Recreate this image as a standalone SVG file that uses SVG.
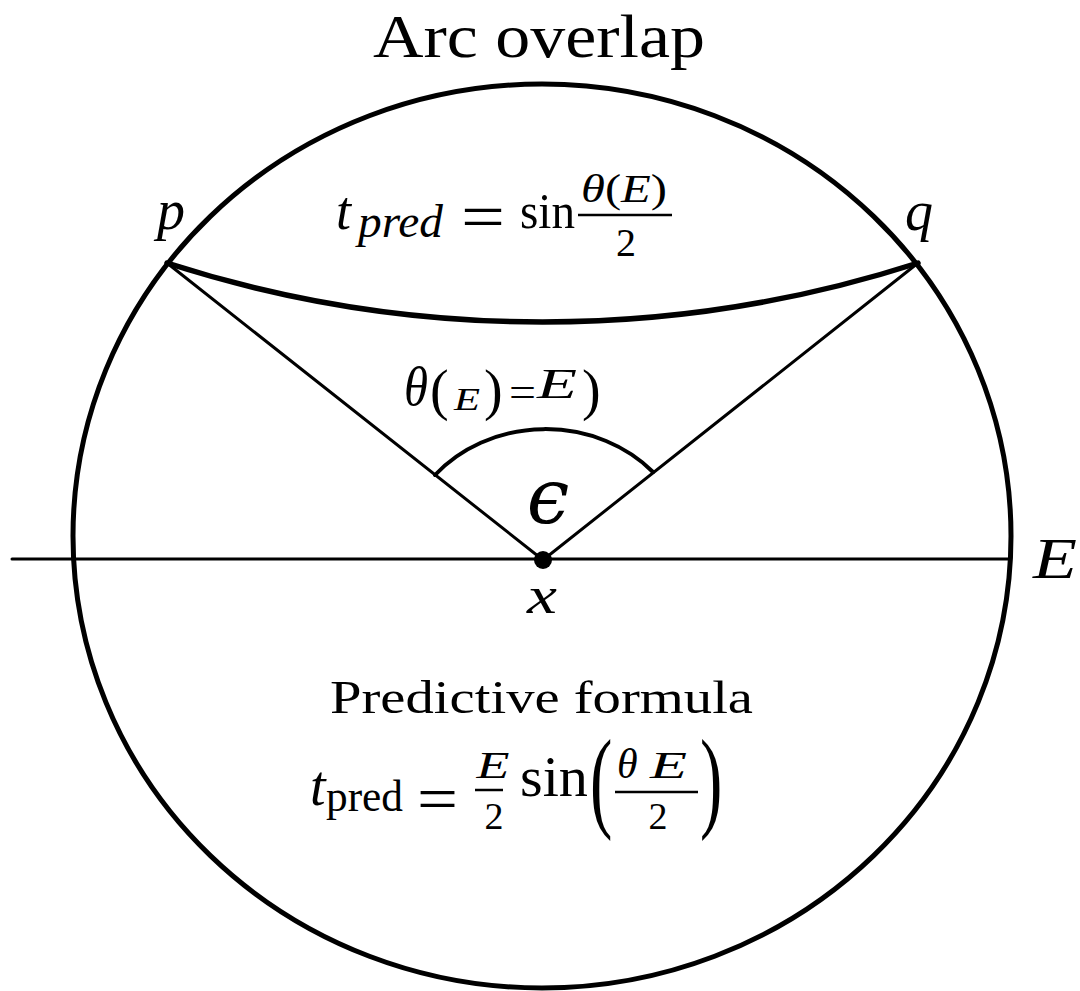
<svg xmlns="http://www.w3.org/2000/svg" width="1080" height="991" viewBox="0 0 1080 991">
<style>
text{font-family:"Liberation Serif","Times New Roman",serif;fill:#000}
.i{font-style:italic}
.ln{stroke:#000;fill:none;stroke-linecap:round}
.thin{stroke-width:3}
.thick{stroke-width:5}
.bar{stroke:#000;stroke-width:2.5}
</style>
<rect width="1080" height="991" fill="#fff"/>
<g id="title"><text x="539" y="57" text-anchor="middle" font-size="62" textLength="332" lengthAdjust="spacingAndGlyphs">Arc overlap</text></g>
<g id="circle"><ellipse class="ln thick" cx="542" cy="536" rx="469" ry="452"/></g>
<g id="connectors">
<line class="ln thin" x1="12" y1="559" x2="1010" y2="559"/>
<line class="ln thin" x1="543" y1="560" x2="167" y2="263"/>
<line class="ln thin" x1="543" y1="560" x2="918" y2="263"/>
<path class="ln" stroke-width="4" d="M435,475 A144,128 0 0 1 653,472"/>
<path class="ln" stroke-width="5.5" d="M167,263 A1224,1224 0 0 0 918,263"/>
</g>
<g id="node-p"><text class="i" x="157" y="229" font-size="56">p</text></g>
<g id="node-q"><text class="i" x="905" y="230" font-size="56">q</text></g>
<g id="node-x"><circle cx="543" cy="560" r="9" fill="#000"/><text class="i" x="527" y="613" font-size="52" textLength="30" lengthAdjust="spacingAndGlyphs">x</text></g>
<g id="node-E"><text class="i" x="1033" y="578" font-size="58" textLength="44" lengthAdjust="spacingAndGlyphs">E</text></g>
<g id="label-top-formula">
<text class="i" x="336" y="229" font-size="54">t</text>
<text class="i" x="358" y="237" font-size="46" textLength="85" lengthAdjust="spacingAndGlyphs">pred</text>
<text x="461" y="239" font-size="66" textLength="44" lengthAdjust="spacingAndGlyphs">=</text>
<text x="520" y="228" font-size="50" textLength="55" lengthAdjust="spacingAndGlyphs">sin</text>
<text x="624" y="202" text-anchor="middle" font-size="40" textLength="86" lengthAdjust="spacingAndGlyphs"><tspan class="i">θ</tspan>(<tspan class="i">E</tspan>)</text>
<line class="bar" x1="578" y1="215" x2="672" y2="215"/>
<text x="626" y="256" text-anchor="middle" font-size="40">2</text>
</g>
<g id="label-angle">
<text class="i" x="404" y="405" font-size="54" textLength="24" lengthAdjust="spacingAndGlyphs">θ</text>
<text x="430" y="409" font-size="56">(</text>
<text class="i" x="454" y="410" font-size="32" textLength="26" lengthAdjust="spacingAndGlyphs">E</text>
<text x="484" y="409" font-size="56">)</text>
<text x="509" y="406" font-size="42" textLength="27" lengthAdjust="spacingAndGlyphs">=</text>
<text class="i" x="537" y="398" font-size="42" textLength="40" lengthAdjust="spacingAndGlyphs">E</text>
<text x="582" y="409" font-size="56">)</text>
</g>
<g id="label-epsilon"><text x="548" y="523" text-anchor="middle" font-size="76" font-style="italic" style="font-family:'DejaVu Serif',serif">ϵ</text></g>
<g id="label-predictive">
<text x="330" y="713" font-size="46" textLength="423" lengthAdjust="spacingAndGlyphs">Predictive formula</text>
</g>
<g id="label-bottom-formula">
<text class="i" x="310" y="805" font-size="56">t</text>
<text x="326" y="811" font-size="44" textLength="77" lengthAdjust="spacingAndGlyphs">pred</text>
<text x="417" y="820" font-size="64" textLength="41" lengthAdjust="spacingAndGlyphs">=</text>
<text class="i" x="493" y="778" text-anchor="middle" font-size="38" textLength="33" lengthAdjust="spacingAndGlyphs">E</text>
<line class="bar" x1="475" y1="790" x2="503" y2="790"/>
<text x="494" y="829" text-anchor="middle" font-size="38">2</text>
<text x="520" y="796" font-size="56" textLength="68" lengthAdjust="spacingAndGlyphs">sin</text>
<text transform="translate(590,817) scale(0.6,1)" font-size="112">(</text>
<text class="i" x="617" y="778" font-size="42">θ</text>
<text class="i" x="650" y="778" font-size="38" textLength="37" lengthAdjust="spacingAndGlyphs">E</text>
<line class="bar" x1="615" y1="792" x2="698" y2="792"/>
<text x="658" y="829" text-anchor="middle" font-size="38">2</text>
<text transform="translate(700,817) scale(0.6,1)" font-size="112">)</text>
</g>
</svg>
